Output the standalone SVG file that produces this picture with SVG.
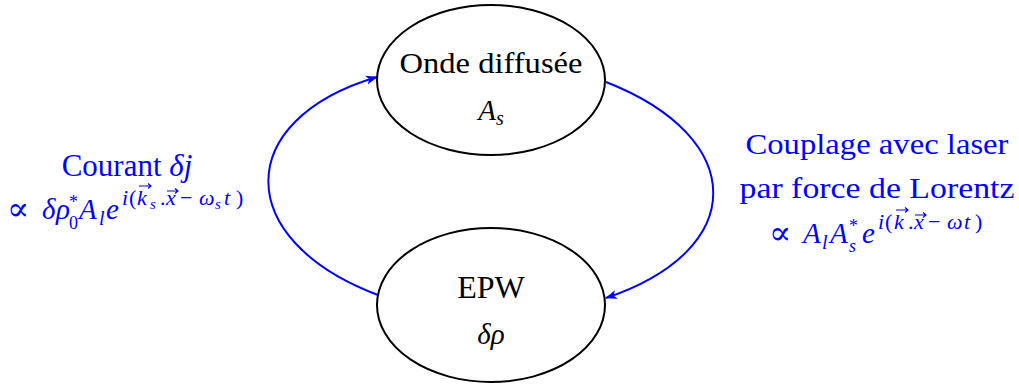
<svg xmlns="http://www.w3.org/2000/svg" width="1019" height="385" viewBox="0 0 1019 385">
<style>
text{font-family:"Liberation Serif","DejaVu Serif",serif}
.node{fill:#fff;stroke:#000;stroke-width:2}
.t{font-size:29px;fill:#000;text-anchor:middle}
.m{font-style:italic}
.b{font-size:29px;fill:#0000ff}
.bc{text-anchor:middle}
.prop{font-size:33px}
.sup{font-size:22px}
.sub{font-size:20px}
.st{font-size:18px}
.ss{font-size:15px}
.c{fill:none;stroke:#0000ff;stroke-width:2}
.va{fill:none;stroke:#0000ff;stroke-width:1.2}
</style>
<defs>
<marker id="ah" viewBox="0 0 12 10" refX="11" refY="5" markerWidth="12" markerHeight="10" orient="auto" markerUnits="userSpaceOnUse">
<path d="M0,0.5 L12,5 L0,9.5 L3,5 Z" fill="#0000ff"/>
</marker>
</defs>
<g id="connectors">
<path class="c" d="M378,295 C232,240 232,120 377,77" marker-end="url(#ah)"/>
<path class="c" d="M606,82 C749,138 749,250 606,298" marker-end="url(#ah)"/>
</g>
<g id="n1">
<ellipse class="node" cx="491" cy="80" rx="114" ry="75"/>
<text class="t" x="491" y="73" textLength="183" lengthAdjust="spacingAndGlyphs">Onde diffusée</text>
<text class="t" x="491" y="120"><tspan class="m">A</tspan><tspan class="m sub" dy="5">s</tspan></text>
</g>
<g id="n2">
<ellipse class="node" cx="491" cy="305" rx="114" ry="77"/>
<text class="t" x="491" y="298" style="font-size:32px">EPW</text>
<text class="t m" x="491" y="344">δρ</text>
</g>
<g id="lbl-left">
<text class="b bc" x="127" y="176" style="font-size:31px">Courant <tspan class="m">δj</tspan></text>
<text class="b prop" x="7" y="220">∝</text>
<text class="b m" x="42 56" y="219">δρ</text>
<text class="b st" x="69" y="229">0</text>
<text class="b st" x="69" y="208">*</text>
<text class="b m" x="79" y="219">A</text>
<text class="b m sub" x="99" y="225">l</text>
<text class="b m" x="106" y="219">e</text>
<text class="b sup m" x="122" y="205">i</text>
<text class="b sup" x="129" y="205">(</text>
<text class="b sup m" x="137" y="205">k</text>
<text class="b ss m" x="150" y="209">s</text>
<text class="b sup" x="160" y="205">.</text>
<text class="b sup m" x="166" y="205">x</text>
<text class="b sup" x="180" y="205">−</text>
<text class="b sup m" x="199" y="205">ω</text>
<text class="b ss m" x="215" y="209">s</text>
<text class="b sup m" x="224" y="205">t</text>
<text class="b sup" x="236" y="205">)</text>
<path class="va" d="M139,186 H151 M148,183.5 L151,186 L148,188.5"/>
<path class="va" d="M167,191 H178 M175,188.5 L178,191 L175,193.5"/>
</g>
<g id="lbl-right">
<text class="b bc" x="877" y="154" textLength="263" lengthAdjust="spacingAndGlyphs">Couplage avec laser</text>
<text class="b bc" x="877" y="198" textLength="275" lengthAdjust="spacingAndGlyphs">par force de Lorentz</text>
<text class="b prop" x="769" y="244">∝</text>
<text class="b m" x="803" y="243">A</text>
<text class="b m sub" x="822" y="249">l</text>
<text class="b m" x="830" y="243">A</text>
<text class="b m st" x="849" y="252">s</text>
<text class="b st" x="849" y="232">*</text>
<text class="b m" x="862" y="243">e</text>
<text class="b sup m" x="878" y="229">i</text>
<text class="b sup" x="885" y="229">(</text>
<text class="b sup m" x="894" y="229">k</text>
<text class="b sup" x="908" y="229">.</text>
<text class="b sup m" x="914" y="229">x</text>
<text class="b sup" x="928" y="229">−</text>
<text class="b sup m" x="947" y="229">ω</text>
<text class="b sup m" x="964" y="229">t</text>
<text class="b sup" x="975" y="229">)</text>
<path class="va" d="M896,210 H908 M905,207.5 L908,210 L905,212.5"/>
<path class="va" d="M915,215 H926 M923,212.5 L926,215 L923,217.5"/>
</g>
</svg>
